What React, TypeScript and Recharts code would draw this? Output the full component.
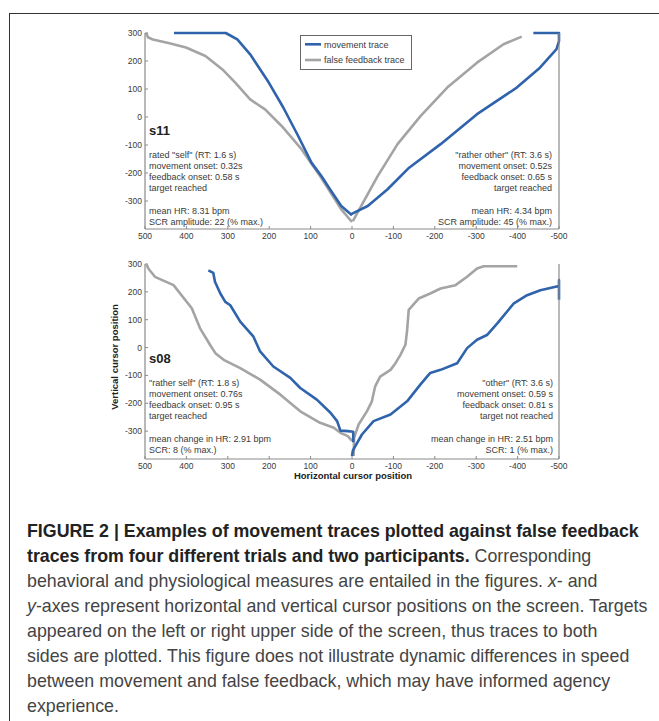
import React from 'react';
import { LineChart, Line, XAxis, YAxis } from 'recharts';

// traces: [horizontal, vertical] cursor position
const s11MoveSelf = [[0, -351], [26, -318], [50, -265], [74, -211], [98, -163], [130, -68], [166, 34], [201, 123], [246, 224], [277, 277], [305, 300], [430, 300]];
const s11FeedSelf = [[0, -375], [26, -330], [74, -218], [122, -115], [170, -32], [210, 27], [246, 63], [282, 123], [313, 170], [354, 218], [401, 248], [441, 263], [481, 277], [493, 285], [497, 300]];
const s11MoveOther = [[2, -347], [-38, -318], [-86, -258], [-138, -181], [-214, -97], [-302, 10], [-398, 105], [-454, 176], [-494, 242], [-500, 271], [-500, 300], [-438, 300]];
const s11FeedOther = [[-2, -372], [-22, -318], [-62, -211], [-110, -97], [-166, 4], [-230, 105], [-302, 194], [-366, 260], [-410, 287]];

const s08MoveSelf = [[-3, -340], [-3, -302], [10, -300], [28, -298], [36, -264], [52, -234], [85, -187], [125, -145], [149, -109], [190, -68], [222, -14], [238, 39], [270, 93], [294, 152], [306, 164], [318, 194], [331, 236], [335, 268], [347, 277]];
const s08FeedSelf = [[0, -335], [10, -318], [28, -306], [44, -288], [77, -270], [125, -229], [173, -169], [222, -115], [270, -74], [310, -44], [330, -20], [343, 10], [367, 69], [387, 141], [431, 224], [476, 254], [492, 284], [496, 298]];
const s08MoveOther = [[0, -389], [-2, -370], [-8, -354], [-24, -312], [-52, -264], [-93, -240], [-133, -193], [-165, -133], [-189, -91], [-214, -80], [-254, -56], [-278, -2], [-302, 28], [-326, 45], [-351, 87], [-391, 159], [-423, 188], [-455, 206], [-500, 221], [-500, 242], [-500, 172]];
const s08FeedOther = [[-4, -389], [-5, -324], [-16, -276], [-36, -229], [-48, -193], [-56, -139], [-68, -104], [-93, -80], [-105, -56], [-117, -26], [-129, 10], [-133, 60], [-137, 135], [-161, 176], [-189, 194], [-214, 212], [-250, 224], [-278, 254], [-302, 284], [-318, 292], [-399, 292]];

const xTicks = [500, 400, 300, 200, 100, 0, -100, -200, -300, -400, -500];
const yTicks = [300, 200, 100, 0, -100, -200, -300];

const BLUE = '#2f63ab';
const GRAY = '#a4a4a4';
const AXIS = '#8a8a8a';
const INK = '#3a3a3a';
const FONT = '"Liberation Sans", Arial, Helvetica, sans-serif';

const toPts = (arr: number[][]) => arr.map(([x, y]) => ({ x, y }));

const XTick = (props: any) => {
  const { x, y, payload } = props;
  return (
    <g>
      <line x1={x} y1={y} x2={x} y2={y - 3} stroke={AXIS} />
      <text x={x} y={y + 10} textAnchor="middle" fontSize={8.5} fontFamily={FONT} fill={INK}>
        {payload.value}
      </text>
    </g>
  );
};

const YTickLeft = (props: any) => {
  const { x, y, payload } = props;
  return (
    <g>
      <line x1={x} y1={y} x2={x + 3} y2={y} stroke={AXIS} />
      <text x={x - 3} y={y + 3} textAnchor="end" fontSize={8.5} fontFamily={FONT} fill={INK}>
        {payload.value}
      </text>
    </g>
  );
};

const YTickRight = (props: any) => {
  const { x, y } = props;
  return <line x1={x} y1={y} x2={x - 3} y2={y} stroke={AXIS} />;
};

interface PanelProps {
  top: number;
  height: number;
  marginTop: number;
  traces: { data: number[][]; color: string }[];
}

const TracePanel: React.FC<PanelProps> = ({ top, height, marginTop, traces }) => (
  <div style={{ position: 'absolute', left: 0, top }}>
    <LineChart width={659} height={height} margin={{ top: marginTop, right: 95, bottom: 0, left: 105 }}>
      <XAxis
        type="number"
        dataKey="x"
        domain={[-500, 500]}
        reversed
        ticks={xTicks}
        interval={0}
        height={21}
        tickSize={0}
        tickMargin={0}
        tickLine={false}
        axisLine={{ stroke: AXIS, strokeWidth: 1.2 }}
        tick={XTick}
      />
      <YAxis
        yAxisId="l"
        type="number"
        domain={[-400, 300]}
        ticks={yTicks}
        interval={0}
        width={40}
        tickSize={0}
        tickMargin={0}
        tickLine={false}
        axisLine={{ stroke: AXIS, strokeWidth: 1.2 }}
        tick={YTickLeft}
      />
      <YAxis
        yAxisId="r"
        orientation="right"
        type="number"
        domain={[-400, 300]}
        ticks={yTicks}
        interval={0}
        width={5}
        tickSize={0}
        tickMargin={0}
        tickLine={false}
        axisLine={{ stroke: AXIS, strokeWidth: 1.2 }}
        tick={YTickRight}
      />
      {traces.map((t, i) => (
        <Line
          key={i}
          yAxisId="l"
          data={toPts(t.data)}
          dataKey="y"
          type="linear"
          stroke={t.color}
          strokeWidth={2.6}
          strokeLinejoin="round"
          dot={false}
          activeDot={false}
          isAnimationActive={false}
        />
      ))}
    </LineChart>
  </div>
);

const NoteBlock = ({ x, y, anchor, lines }: { x: number; y: number; anchor: 'start' | 'end'; lines: string[] }) => (
  <text x={x} y={y} textAnchor={anchor} fontSize={9} fontFamily={FONT} fill={INK}>
    {lines.map((l, i) => (
      <tspan key={i} x={x} dy={i === 0 ? 0 : 11.1}>
        {l === '' ? '\u00a0' : l}
      </tspan>
    ))}
  </text>
);

export default function App() {
  return (
    <div style={{ position: 'absolute', left: 0, top: 0, width: 659, height: 721, background: '#fff', overflow: 'hidden' }}>
      <div style={{ position: 'absolute', left: 9, top: 13, width: 700, height: 760, borderTop: '1.5px solid #333', borderLeft: '1.5px solid #333' }} />

      <TracePanel
        top={0}
        height={250}
        marginTop={33}
        traces={[
          { data: s11FeedSelf, color: GRAY },
          { data: s11FeedOther, color: GRAY },
          { data: s11MoveSelf, color: BLUE },
          { data: s11MoveOther, color: BLUE },
        ]}
      />
      <TracePanel
        top={240}
        height={240}
        marginTop={24}
        traces={[
          { data: s08FeedSelf, color: GRAY },
          { data: s08FeedOther, color: GRAY },
          { data: s08MoveSelf, color: BLUE },
          { data: s08MoveOther, color: BLUE },
        ]}
      />

      <svg width={659} height={500} style={{ position: 'absolute', left: 0, top: 0 }}>
        {/* legend */}
        <rect x={300.5} y={35.5} width={111} height={34} fill="#fff" stroke="#666" strokeWidth={1} />
        <line x1={305} y1={44.3} x2={321} y2={44.3} stroke={BLUE} strokeWidth={2.6} />
        <line x1={305} y1={60} x2={321} y2={60} stroke={GRAY} strokeWidth={2.6} />
        <text x={324} y={47.5} fontSize={9} fontFamily={FONT} fill={INK}>movement trace</text>
        <text x={324} y={63.2} fontSize={9} fontFamily={FONT} fill={INK}>false feedback trace</text>

        {/* s11 */}
        <text x={149} y={135} fontSize={13} fontWeight="bold" fontFamily={FONT} fill="#222">s11</text>
        <NoteBlock x={149} y={158} anchor="start" lines={['rated "self" (RT: 1.6 s)', 'movement onset: 0.32s', 'feedback onset: 0.58 s', 'target reached', '', 'mean HR: 8.31 bpm', 'SCR amplitude: 22 (% max.)']} />
        <NoteBlock x={552} y={158} anchor="end" lines={['"rather other" (RT: 3.6 s)', 'movement onset: 0.52s', 'feedback onset: 0.65 s', 'target reached', '', 'mean HR: 4.34 bpm', 'SCR amplitude: 45 (% max.)']} />

        {/* s08 */}
        <text x={149} y={363} fontSize={13} fontWeight="bold" fontFamily={FONT} fill="#222">s08</text>
        <NoteBlock x={149} y={386} anchor="start" lines={['"rather self" (RT: 1.8 s)', 'movement onset: 0.76s', 'feedback onset: 0.95 s', 'target reached', '', 'mean change in HR: 2.91 bpm', 'SCR: 8 (% max.)']} />
        <NoteBlock x={553} y={386} anchor="end" lines={['"other" (RT: 3.6 s)', 'movement onset: 0.59 s', 'feedback onset: 0.81 s', 'target not reached', '', 'mean change in HR: 2.51 bpm', 'SCR: 1 (% max.)']} />

        {/* axis titles */}
        <text x={118} y={357} transform="rotate(-90 118 357)" textAnchor="middle" fontSize={9.5} fontWeight="bold" fontFamily={FONT} fill="#222">
          Vertical cursor position
        </text>
        <text x={353} y={479} textAnchor="middle" fontSize={9.5} fontWeight="bold" fontFamily={FONT} fill="#222">
          Horizontal cursor position
        </text>
      </svg>

      <div
        style={{
          position: 'absolute',
          left: 27,
          top: 519,
          fontFamily: FONT,
          fontSize: 17.8,
          lineHeight: '25px',
          color: '#444',
          whiteSpace: 'nowrap',
        }}
      >
        <b style={{ color: '#222' }}>FIGURE 2 | Examples of movement traces plotted against false feedback</b>
        <br />
        <b style={{ color: '#222' }}>traces from four different trials and two participants.</b> Corresponding
        <br />
        behavioral and physiological measures are entailed in the figures. <i>x</i>- and
        <br />
        <i>y</i>-axes represent horizontal and vertical cursor positions on the screen. Targets
        <br />
        appeared on the left or right upper side of the screen, thus traces to both
        <br />
        sides are plotted. This figure does not illustrate dynamic differences in speed
        <br />
        between movement and false feedback, which may have informed agency
        <br />
        experience.
      </div>
    </div>
  );
}
